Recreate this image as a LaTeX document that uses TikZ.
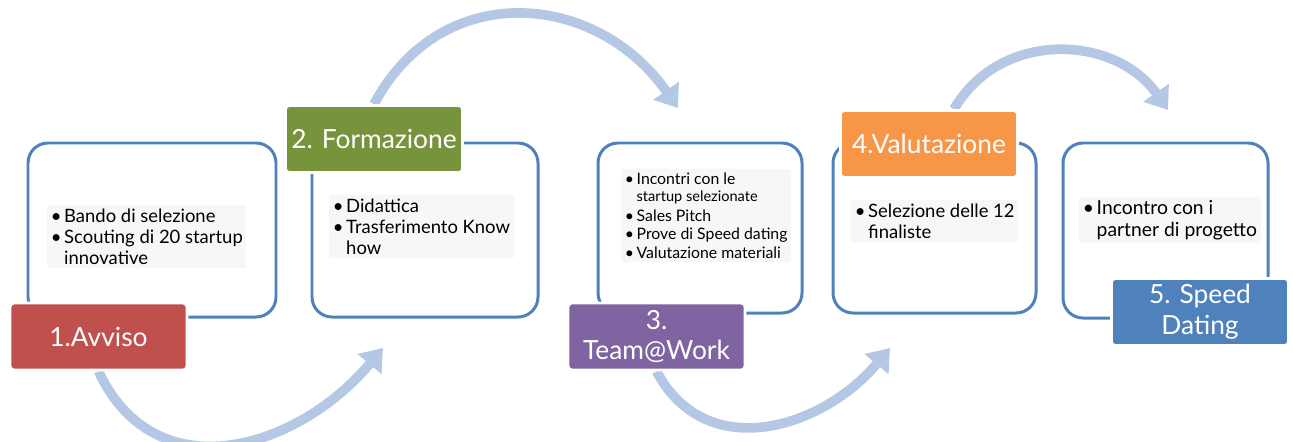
\documentclass[tikz,border=0pt]{standalone}
\usepackage{fontspec}
\setmainfont{Lato}
\usetikzlibrary{arrows.meta,fit,positioning}
\pgfdeclarelayer{background}
\pgfsetlayers{background,main}
\definecolor{boxblue}{RGB}{79,129,189}
\definecolor{arcblue}{RGB}{180,199,228}
\definecolor{hred}{RGB}{192,80,77}
\definecolor{hgreen}{RGB}{119,147,60}
\definecolor{hpurple}{RGB}{128,100,162}
\definecolor{horange}{RGB}{247,150,70}
\definecolor{hblue}{RGB}{79,129,189}
\tikzset{
  phase/.style={draw=boxblue, line width=1.7pt, fill=white, rounded corners=0.4cm, inner sep=0pt},
  head/.style={draw=white, line width=1.5pt, rounded corners=0.08cm, inner sep=0pt,
    minimum width=3.54cm, minimum height=1.34cm,
    text=white, font=\fontsize{15}{17.5}\selectfont, align=center},
  bul/.style={fill=black!3, anchor=north west, align=left, inner sep=2pt,
    font=\fontsize{10.5}{12}\selectfont},
  flow/.style={draw=arcblue, line width=5.5pt, -{Triangle[length=0.42cm,width=0.6cm]}},
}
\newcommand{\bl}{\textbullet\hspace{1.5pt}}
\newcommand{\gap}{\phantom{\bl}}

\begin{document}
\begin{tikzpicture}[x=0.02cm,y=0.02cm]
   \useasboundingbox (0,0) rectangle (1293,441);
   % boxes
   \node[phase, fit={(28,124) (276,298)}] (b1) {};
   \node[phase, fit={(312,124) (538,298)}] (b2) {};
   \node[phase, fit={(598,128) (802,298)}] (b3) {};
   \node[phase, fit={(833,128) (1036,298)}] (b4) {};
   \node[phase, fit={(1063,123) (1268,298)}] (b5) {};
   % contents
   \node[bul] (t1) at (47,236) {\bl Bando di selezione\\ \bl Scouting di 20 startup\\ \gap innovative};
   \node[bul] (t2) at (329,246) {\bl Didattica\\ \bl Trasferimento Know\\ \gap how};
   \node[bul, font=\fontsize{9}{10.5}\selectfont] (t3) at (621,272) {\bl Incontri con le\\[-1pt] \gap{\fontsize{8.3}{10}\selectfont startup selezionate}\\[1pt] \bl Sales Pitch\\ \bl Prove di Speed dating\\ \bl Valutazione materiali};
   \node[bul] (t4) at (851,241) {\bl Selezione delle 12\\ \gap finaliste};
   \node[bul, font=\fontsize{11}{12}\selectfont] (t5) at (1079,244) {\bl Incontro con i\\ \gap partner di progetto};
   % headers
   \node[head, fill=hred] (h1) at (98.5,104.5) {1.Avviso};
   \node[head, fill=hgreen] (h2) at (374,302) {2. Formazione};
   \node[head, fill=hpurple] (h3) at (656.5,104.5) {3.\\Team@Work};
   \node[head, fill=horange] (h4) at (929,297) {4.Valutazione};
   \node[head, fill=hblue] (h5) at (1200,129) {5. Speed\\Dating};
   % arrow ends
   \coordinate (e1) at (383,93);
   \coordinate (e2) at (678,333);
   \coordinate (e3) at (890,93);
   \coordinate (e4) at (1168,331);
   \begin{pgfonlayer}{background}
    \draw[flow] (h1.south) to[out=-65,in=-130,looseness=1.2] (e1);
    \draw[flow] (h2.north) to[out=62,in=125,looseness=1.2] (e2);
    \draw[flow] (h3.south) to[out=-62,in=-130,looseness=1.15] (e3);
    \draw[flow] ([xshift=0.5cm]h4.north) to[out=60,in=125,looseness=1.1] (e4);
   \end{pgfonlayer}
\end{tikzpicture}
\end{document}
